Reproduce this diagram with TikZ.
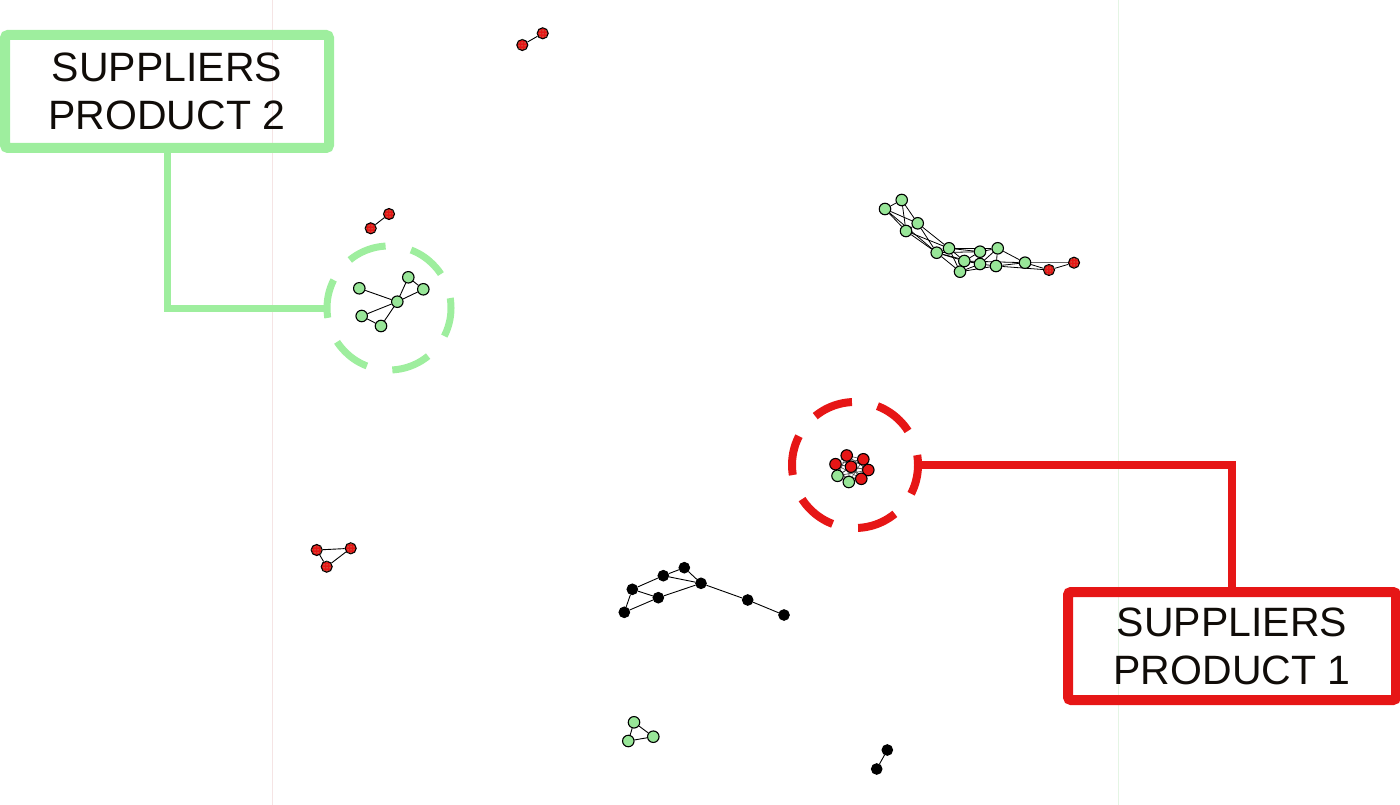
\documentclass[tikz,border=0pt]{standalone}
\usepackage{fontspec}
\setmainfont{Liberation Sans}
\usetikzlibrary{patterns,backgrounds}
\definecolor{lgreen}{RGB}{158,238,158}
\definecolor{ngreen}{RGB}{152,230,152}
\definecolor{lred}{RGB}{230,22,22}
\definecolor{txt}{RGB}{16,12,8}
\tikzset{
  nd/.style={circle,draw=black,line width=1.1pt,fill=ngreen,minimum size=11.5pt,inner sep=0pt},
  rr/.style={circle,draw=black,line width=1.1pt,fill=lred,minimum size=11.5pt,inner sep=0pt},
  rd/.style={circle,draw=black,line width=1.1pt,fill=lred,minimum size=11pt,inner sep=0pt,
     postaction={pattern=dots,pattern color=lgreen}},
  bk/.style={circle,draw=black,line width=1.1pt,fill=black,minimum size=10.5pt,inner sep=0pt},
  ed/.style={draw=black,line width=0.9pt},
  labelbox/.style={draw,rounded corners=3pt,align=center,text=txt,
     font=\fontsize{41}{48}\selectfont,inner sep=0pt},
  ring/.style={circle,draw,minimum size=#1,inner sep=0pt},
}
\begin{document}
\begin{tikzpicture}[x=1pt,y=-1pt]
\useasboundingbox (0,0) rectangle (1400,805);
% faint guide lines
\draw[color={rgb,255:red,245;green,228;blue,228},line width=1pt] (272,0) -- (272,805);
\draw[color={rgb,255:red,228;green,245;blue,228},line width=1pt] (1118,0) -- (1118,805);

% label boxes
\node[labelbox,draw=lgreen,line width=10pt,minimum width=324pt,minimum height=113pt] (gbox) at (167,91.5) {SUPPLIERS\\PRODUCT 2};
\node[labelbox,draw=lred,line width=10pt,minimum width=328pt,minimum height=108pt] (rbox) at (1232,646) {SUPPLIERS\\PRODUCT 1};

% dashed rings
\node[ring=124pt,draw=lgreen,line width=7pt,dash pattern=on 39pt off 25.9pt,dash phase=29pt] (gc) at (389,308) {};
\node[ring=126pt,draw=lred,line width=8pt,dash pattern=on 40pt off 26pt,dash phase=30pt] (rc) at (855,465) {};

% connectors
\draw[lgreen,line width=7pt] (gbox.south) |- (gc.west);
\draw[lred,line width=8pt] (rc.east) -| (rbox.north);

% green cluster in ring
\node[nd] (a1) at (359.3,288.3) {};
\node[nd] (a2) at (408.3,277.3) {};
\node[nd] (a3) at (423.3,289.3) {};
\node[nd] (a4) at (397.3,301.7) {};
\node[nd] (a5) at (361.7,316) {};
\node[nd] (a6) at (381,326) {};

% red cluster in ring
\node[rr] (c1) at (846.7,455.5) {};
\node[rr] (c2) at (863.3,459.3) {};
\node[rr] (c3) at (835.5,464.2) {};
\node[rr] (c4) at (851,466.7) {};
\node[rr] (c5) at (868.3,470) {};
\node[nd] (c6) at (837.5,475.8) {};
\node[rr] (c7) at (861.3,478.8) {};
\node[nd] (c8) at (848.8,482) {};

% top right cluster
\node[nd] (t1) at (901.7,200) {};
\node[nd] (t2) at (885,209) {};
\node[nd] (t3) at (917.7,223.3) {};
\node[nd] (t4) at (906,231) {};
\node[nd] (t5) at (949,248.3) {};
\node[nd] (t6) at (936.7,252.7) {};
\node[nd] (t7) at (980,251.7) {};
\node[nd] (t8) at (997.7,248.3) {};
\node[nd] (t9) at (964.3,261) {};
\node[nd] (t10) at (980,264) {};
\node[nd] (t11) at (996,266) {};
\node[nd] (t12) at (960,271.7) {};
\node[nd] (t13) at (1025,262.7) {};
\node[rd] (t14) at (1049,270) {};
\node[rd] (t15) at (1074,262.7) {};

% black cluster
\node[bk] (b1) at (684.3,567.7) {};
\node[bk] (b2) at (663.3,575.7) {};
\node[bk] (b3) at (701,583.3) {};
\node[bk] (b4) at (632.3,589.3) {};
\node[bk] (b5) at (658.3,597.7) {};
\node[bk] (b6) at (747.7,600) {};
\node[bk] (b7) at (624.3,612.3) {};
\node[bk] (b8) at (784,615) {};

% small components
\node[rd] (p1) at (522.3,45) {};
\node[rd] (p2) at (542.7,33.3) {};
\node[rd] (q1) at (370.7,228.3) {};
\node[rd] (q2) at (389,214) {};
\node[rd] (s1) at (316.7,550) {};
\node[rd] (s2) at (350.7,548.3) {};
\node[rd] (s3) at (326.7,566.7) {};
\node[nd] (g1) at (634,722.3) {};
\node[nd] (g2) at (653.3,736.7) {};
\node[nd] (g3) at (628.3,741) {};
\node[bk] (k1) at (887.3,750) {};
\node[bk] (k2) at (876.7,769) {};

\begin{pgfonlayer}{background}
% green ring cluster
\draw[ed] (a1)--(a4) (a2)--(a4) (a3)--(a4) (a2)--(a3) (a4)--(a5) (a4)--(a6) (a5)--(a6);
% red cluster: dense
\foreach \u/\v in {c1/c2,c1/c3,c1/c4,c1/c5,c1/c6,c1/c7,c1/c8,c2/c3,c2/c4,c2/c5,c2/c6,c2/c7,c2/c8,
  c3/c4,c3/c5,c3/c6,c3/c7,c3/c8,c4/c5,c4/c6,c4/c7,c4/c8,c5/c6,c5/c7,c5/c8,c6/c7,c6/c8,c7/c8}
  \draw[black!70,line width=0.6pt] (\u)--(\v);
% top right cluster
\foreach \u/\v in {t1/t2,t1/t3,t2/t3,t2/t4,t1/t4,t3/t4,t3/t5,t3/t6,t4/t6,t4/t5,t2/t6,
  t5/t6,t5/t7,t5/t12,t6/t12,t6/t9,t5/t9,t7/t8,t7/t9,t7/t10,t8/t10,t8/t11,t9/t10,t10/t11,
  t9/t12,t12/t10,t12/t11,t8/t13,t11/t13,t9/t13,t13/t14,t14/t15,t11/t14,t6/t10,t5/t8,t6/t7}
  \draw[ed,line width=0.8pt] (\u)--(\v);
\draw[black!60,line width=0.6pt] (t13)--(t15);
% black cluster
\draw[ed] (b2)--(b1) (b1)--(b3) (b2)--(b3) (b2)--(b4) (b4)--(b5) (b5)--(b3) (b4)--(b7) (b7)--(b5) (b3)--(b6) (b6)--(b8);
% small components
\draw[ed] (p1)--(p2) (q1)--(q2) (s1)--(s2) (s2)--(s3) (s1)--(s3) (g1)--(g2) (g2)--(g3) (g3)--(g1) (k1)--(k2);
\end{pgfonlayer}
\end{tikzpicture}
\end{document}
